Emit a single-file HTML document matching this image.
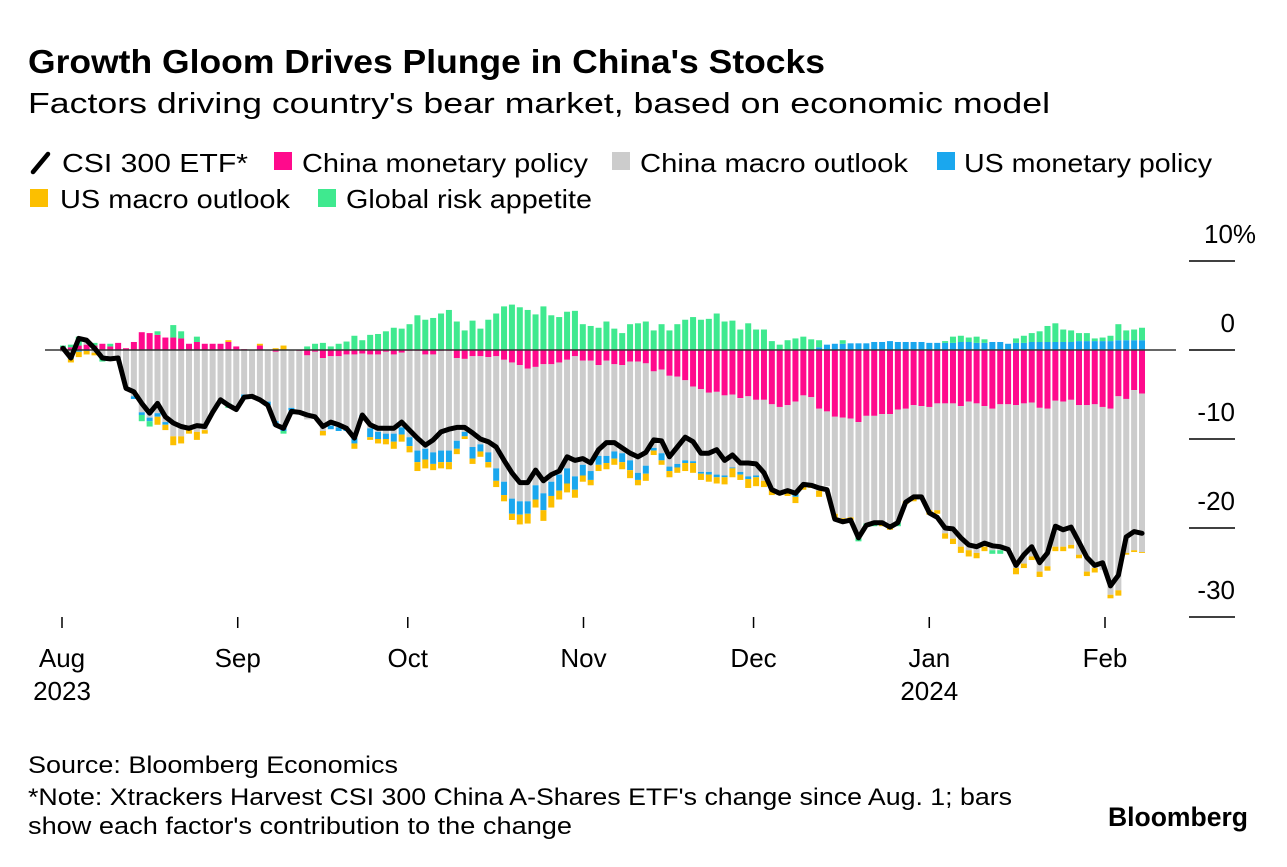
<!DOCTYPE html>
<html><head><meta charset="utf-8"><style>
body{margin:0;background:#fff;width:1287px;height:862px;overflow:hidden;font-family:"Liberation Sans",sans-serif;}
svg text{font-family:"Liberation Sans",sans-serif;}
</style></head><body>
<svg id="chart" width="1287" height="862" viewBox="0 0 1287 862" xmlns="http://www.w3.org/2000/svg">
<text x="28" y="73" font-size="33" font-weight="bold" fill="#000" textLength="797" lengthAdjust="spacingAndGlyphs">Growth Gloom Drives Plunge in China's Stocks</text>
<text x="28" y="113" font-size="29" fill="#000" textLength="1022" lengthAdjust="spacingAndGlyphs">Factors driving country's bear market, based on economic model</text>
<g font-size="26" fill="#000">
 <g><line x1="33" y1="172" x2="48" y2="154" stroke="#000" stroke-width="4.5" stroke-linecap="round"/><text x="62" y="172" textLength="186" lengthAdjust="spacingAndGlyphs">CSI 300 ETF*</text></g>
 <g><rect x="274" y="152" width="18" height="18" fill="#ff0a8c"/><text x="302" y="172" textLength="286" lengthAdjust="spacingAndGlyphs">China monetary policy</text></g>
 <g><rect x="612" y="152" width="18" height="18" fill="#cccccc"/><text x="640" y="172" textLength="268" lengthAdjust="spacingAndGlyphs">China macro outlook</text></g>
 <g><rect x="937" y="152" width="18" height="18" fill="#1aa7ee"/><text x="964" y="172" textLength="248" lengthAdjust="spacingAndGlyphs">US monetary policy</text></g>
 <g><rect x="30" y="189" width="18" height="18" fill="#fcbf00"/><text x="60" y="208" textLength="230" lengthAdjust="spacingAndGlyphs">US macro outlook</text></g>
 <g><rect x="318" y="189" width="18" height="18" fill="#3fe98f"/><text x="346" y="208" textLength="246" lengthAdjust="spacingAndGlyphs">Global risk appetite</text></g>
</g>
<g id="yaxis"></g>
<g id="bars"></g>
<line x1="45" y1="350" x2="1176" y2="350" stroke="#333" stroke-width="1.5"/>
<path id="csi" fill="none" stroke="#000" stroke-width="5" stroke-linejoin="round" stroke-linecap="round"/>
<g id="xaxis" font-size="26" fill="#000"></g>
<g font-size="24" fill="#000">
<text x="28" y="773" textLength="370" lengthAdjust="spacingAndGlyphs">Source: Bloomberg Economics</text>
<text x="28" y="805" textLength="984" lengthAdjust="spacingAndGlyphs">*Note: Xtrackers Harvest CSI 300 China A-Shares ETF's change since Aug. 1; bars</text>
<text x="28" y="834" textLength="544" lengthAdjust="spacingAndGlyphs">show each factor's contribution to the change</text>
</g>
<text x="1108" y="826" font-size="27" font-weight="bold" fill="#000" textLength="140" lengthAdjust="spacingAndGlyphs">Bloomberg</text>
</svg>
<script>
const csi=[0.2,-0.9,1.3,1.1,0.2,-0.9,-1.0,-0.9,-4.3,-4.7,-6.0,-7.1,-6.0,-7.5,-8.2,-8.6,-8.8,-8.5,-8.6,-7.0,-5.6,-6.2,-6.7,-5.3,-5.2,-5.6,-6.2,-8.4,-8.8,-6.9,-7.0,-7.3,-7.5,-8.6,-8.1,-8.4,
-8.8,-9.9,-7.3,-8.4,-8.8,-8.8,-8.8,-8.1,-9.0,-9.9,-10.7,-10.1,-9.2,-8.9,-8.7,-8.7,-9.3,-10.0,-10.3,-10.9,-12.4,-13.8,-14.9,-14.9,-13.5,-14.7,-14.0,-13.6,-12.0,-12.4,-12.2,-12.7,-11.2,-10.4,-10.4,-11.0,
-11.6,-12.0,-11.5,-10.1,-10.2,-12.0,-10.9,-9.8,-10.3,-11.6,-11.6,-11.2,-12.4,-11.8,-12.7,-12.7,-12.8,-13.8,-15.7,-16.1,-15.8,-16.1,-15.1,-15.2,-15.5,-15.7,-19.0,-19.3,-19.1,-21.1,-19.7,-19.4,-19.4,-19.9,-19.4,
-17.1,-16.5,-16.5,-18.3,-18.8,-20.0,-20.1,-21.1,-21.9,-22.1,-21.7,-22.0,-22.1,-22.4,-24.2,-23.0,-22.1,-23.9,-22.8,-19.8,-20.2,-19.9,-21.6,-23.3,-24.2,-23.9,-26.5,-25.3,-21.0,-20.4,-20.6];
const chinaMonetary=[0.3,0.3,0.5,0.6,0.5,0.7,0.4,0.8,0.2,0.9,2.0,1.9,1.7,1.4,1.4,1.3,0.7,0.9,0.7,0.7,0.7,0.9,0.4,0.1,0,0.5,0,-0.2,0,0,-0.1,-0.6,-0.2,-0.9,-0.7,-0.7,
-0.5,-0.5,-0.4,-0.5,-0.5,-0.2,-0.5,-0.3,-0.1,-0.1,-0.5,-0.5,-0.1,-0.1,-0.9,-1.0,-0.7,-0.7,-0.8,-0.7,-1.1,-1.4,-1.7,-2.1,-1.9,-1.6,-1.6,-1.4,-1.1,-0.7,-1.2,-1.2,-1.7,-1.2,-1.6,-1.7,
-1.3,-1.3,-1.5,-2.4,-2.2,-2.9,-3.0,-3.4,-4.1,-4.4,-4.8,-4.7,-5.1,-5.0,-5.4,-5.2,-5.6,-5.6,-6.1,-6.4,-6.2,-5.8,-5.1,-5.3,-6.6,-6.9,-7.5,-7.6,-7.7,-8.1,-7.4,-7.4,-7.2,-7.2,-6.7,
-6.6,-6.2,-6.3,-6.4,-6.0,-6.0,-6.0,-6.3,-5.8,-6.0,-6.3,-6.6,-6.1,-6.1,-6.2,-6.0,-5.9,-6.5,-6.6,-5.7,-5.8,-5.6,-6.2,-6.2,-6.1,-6.4,-6.6,-5.2,-5.5,-4.5,-4.9];
const chinaMacro=[-0.2,-0.8,0,0.6,-0.3,-0.9,-0.8,-0.9,
-4.1,-5.2,-7.0,-7.6,-7.1,-8.1,-9.7,-9.7,-9.0,-9.2,-9.0,-7.0,-5.6,-6.0,-6.5,-5.0,-5.2,-5.6,-5.8,-7.8,-8.5,-6.5,-6.7,-7.2,-7.4,-8.2,-7.8,-8.0,
-8.3,-9.4,-6.9,-8.3,-8.7,-9.2,-8.9,-8.4,-9.7,-11.2,-10.6,-11.0,-11.2,-11.2,-9.3,-8.2,-10.2,-9.9,-10.7,-12.6,-13.7,-15.3,-15.3,-14.9,-13.3,-14.5,-13.2,-12.6,-12.2,-13.5,-11.7,-12.4,-10.2,-10.7,-9.8,-9.9,
-11.1,-12.5,-11.5,-8.6,-9.4,-10.2,-9.8,-9.0,-8.4,-9.3,-8.9,-9.3,-9.0,-8.2,-8.3,-9.0,-8.5,-9.1,-9.5,-9.4,-9.6,-10.3,-10.0,-9.8,-9.2,-8.4,-10.9,-11.3,-11.1,-12.9,-12.1,-12.1,-12.3,-12.6,-12.7,
-10.4,-10.5,-10.4,-11.6,-12.0,-14.6,-15.2,-15.8,-16.7,-16.8,-15.8,-15.9,-16.4,-16.3,-18.3,-18.0,-17.3,-18.4,-17.7,-16.4,-16.3,-16.3,-16.8,-18.7,-18.4,-18.3,-20.9,-21.8,-17.3,-18.0,-17.8];
const usMonetary=[0,-0.2,-0.2,-0.1,0,0,0,0,
0,-0.3,-0.3,-0.4,-0.4,-0.3,0,0,0,0,0,0,0,0,0,-0.4,0,0,-0.4,-0.5,-0.6,-0.3,-0.3,0,0,0,-0.4,-0.4,
-0.3,-0.6,-0.3,-1.0,-0.8,-0.6,-0.9,-0.8,-1.0,-1.3,-1.2,-1.3,-1.3,-1.3,-0.9,-0.5,-1.3,-0.8,-1.1,-1.4,-1.5,-1.7,-1.5,-1.4,-1.6,-1.9,-1.6,-1.8,-1.7,-1.5,-1.2,-1.0,-1.0,-0.8,-0.8,-1.0,
-1.1,-0.8,-0.9,-0.3,-0.8,-0.5,-0.4,-0.3,-0.2,-0.2,-0.3,-0.3,-0.2,-0.1,-0.3,-0.3,-0.2,0,0,0,0,-0.4,0,0,0.3,0.6,0.7,0.7,0.75,0.75,0.75,0.9,0.9,1.0,0.9,
0.9,0.9,0.9,0.8,0.8,0.8,0.8,0.9,0.9,0.8,0.8,0.9,0.9,0.7,0.8,0.8,0.9,0.9,0.9,0.9,0.9,0.9,1.0,1.0,1.0,1.0,1.0,1.1,1.1,1.1,1.1];
const usMacro=[0,-0.4,-0.6,-0.4,-0.3,0,-0.3,0,
0,0,0,0,-0.9,-0.6,-1.0,-0.8,-0.4,-0.9,-0.4,0,0,0.2,0,0,0,0.2,0,0.2,0.5,0,0,0,0,-0.5,0,0,
0,-0.6,0,-0.3,-0.5,-0.6,-0.8,-0.8,-0.7,-1.0,-1.0,-0.7,-0.7,-0.8,-0.6,-0.3,-0.6,-0.6,-0.6,-0.7,-0.7,-0.7,-1.1,-1.1,-0.9,-1.2,-1.3,-1.0,-1.0,-0.9,-0.7,-0.6,-0.7,-0.7,-0.7,-0.8,
-0.9,-0.6,-0.8,-0.5,-0.5,-0.7,-0.6,-0.9,-1.1,-0.7,-0.8,-0.7,-0.8,-1.0,-0.6,-1.0,-1.0,-0.7,-0.7,-0.5,-0.6,-0.7,-0.6,-0.4,-0.7,0,-0.5,-0.6,-0.3,0,0,0,-0.3,-0.4,0,
-0.3,-0.3,0,-0.5,-0.4,-0.6,-0.6,-0.7,-0.7,-0.6,-0.5,0,0,0,-0.7,-0.5,-0.4,-0.6,-0.5,-0.5,-0.5,-0.4,-0.4,-0.5,-0.5,0,-0.4,-0.6,-0.2,-0.2,-0.1];
const globalRisk=[0.2,0.3,1.0,0,0.3,-0.4,0.3,0,
0,0,-0.7,-0.6,0.4,0,1.4,0.8,0,0.6,0,0,-0.4,-0.5,0,0,0,0,0,0,-0.3,0,0,0.4,0.7,0.8,0.4,0.7,
0.95,1.6,1.1,1.7,1.8,2.1,2.5,2.4,2.9,3.9,3.4,3.6,4.1,4.5,3.2,2.2,3.3,2.4,3.4,4.1,4.9,5.1,4.8,4.5,4.0,4.9,3.9,3.7,4.3,4.4,2.9,2.7,2.5,3.2,2.4,1.9,
2.9,3.0,3.2,2.2,2.9,2.2,2.9,3.4,3.7,3.4,3.5,4.1,3.2,3.3,2.3,3.0,2.3,2.3,1.0,0.6,1.1,1.3,1.5,1.2,0.8,0,0,0.4,0,-0.5,-0.3,-0.3,0,0,-0.4,
0,0,0,0,0,0.2,0.7,0.7,0.5,0.7,0.4,-0.4,-0.4,0,0.5,0.8,1.0,1.2,1.8,2.1,1.4,1.3,0.9,0.9,0.3,0.4,0.6,1.8,1.1,1.2,1.4];
const yTicks=[10,0,-10,-20,-30];
const yTickLabels=["10%","0","-10","-20","-30"];
const months=["Aug","Sep","Oct","Nov","Dec","Jan","Feb"];
const monthDays=[0,31,61,92,122,153,184];
const yearLabels={"Aug":"2023","Jan":"2024"};

const NS="http://www.w3.org/2000/svg";
const N=csi.length;
function xScale(i){return 63+i*(1079/(N-1));}
function yScale(v){return 350-v*8.9;}
function xDate(d){return 62+d*(1043/184);}
const series=[[chinaMonetary,"#ff0a8c","china-monetary"],[chinaMacro,"#cccccc","china-macro"],[usMonetary,"#1aa7ee","us-monetary"],[usMacro,"#fcbf00","us-macro"],[globalRisk,"#3fe98f","global-risk"]];
const barsG=document.getElementById("bars");
for(let i=0;i<N;i++){
  let pos=0,neg=0;
  for(const [arr,col,nm] of series){
    const v=arr[i]; if(!v) continue;
    let y0,y1;
    if(v>0){y0=yScale(pos+v);y1=yScale(pos);pos+=v;}else{y0=yScale(neg);y1=yScale(neg+v);neg+=v;}
    const r=document.createElementNS(NS,"rect");
    r.setAttribute("x",xScale(i)-3);r.setAttribute("width",6);
    r.setAttribute("y",y0);r.setAttribute("height",Math.max(0,y1-y0));
    r.setAttribute("fill",col);
    
    
    barsG.appendChild(r);
  }
}
let d="";
for(let i=0;i<N;i++){d+=(i?"L":"M")+xScale(i).toFixed(1)+","+yScale(csi[i]).toFixed(1);}
document.getElementById("csi").setAttribute("d",d);
const ya=document.getElementById("yaxis");
yTicks.forEach((t,k)=>{
  const y=yScale(t);
  const l=document.createElementNS(NS,"line");
  l.setAttribute("x1",1189);l.setAttribute("x2",1235);l.setAttribute("y1",y);l.setAttribute("y2",y);
  l.setAttribute("stroke","#000");l.setAttribute("stroke-width",1.5);
  
  
  ya.appendChild(l);
  const tx=document.createElementNS(NS,"text");
  const lab=yTickLabels[k];
  tx.setAttribute("y",y-18);tx.setAttribute("font-size",26);
  if(lab.endsWith("%")){tx.setAttribute("x",1204);}else{tx.setAttribute("x",1235);tx.setAttribute("text-anchor","end");}
  tx.textContent=lab;
  
  
  ya.appendChild(tx);
});
const xa=document.getElementById("xaxis");
months.forEach((m,k)=>{
  const x=xDate(monthDays[k]);
  const l=document.createElementNS(NS,"line");
  l.setAttribute("x1",x);l.setAttribute("x2",x);l.setAttribute("y1",617);l.setAttribute("y2",628);
  l.setAttribute("stroke","#000");l.setAttribute("stroke-width",1.5);
  
  
  xa.appendChild(l);
  const t=document.createElementNS(NS,"text");
  t.setAttribute("x",x);t.setAttribute("y",667);t.setAttribute("text-anchor","middle");
  t.textContent=m;
  
  
  xa.appendChild(t);
  if(yearLabels[m]){
    const t2=document.createElementNS(NS,"text");
    t2.setAttribute("x",x);t2.setAttribute("y",700);t2.setAttribute("text-anchor","middle");
    t2.textContent=yearLabels[m];
    
    
    xa.appendChild(t2);
  }
});
</script>
</body></html>
